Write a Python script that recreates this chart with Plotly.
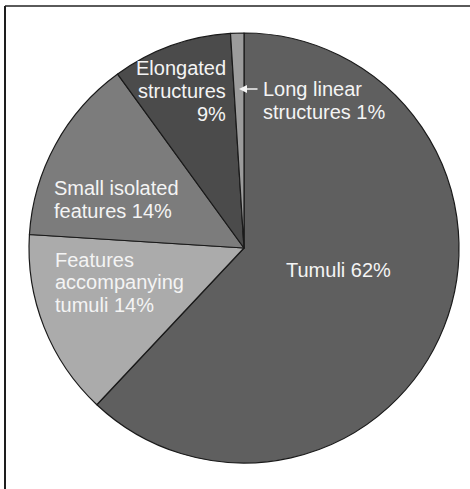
import plotly.graph_objects as go

W, H = 470, 489

categories = ["Tumuli", "Features accompanying tumuli", "Small isolated features",
              "Elongated structures", "Long linear structures"]
values = [62, 14, 14, 9, 1]
colors = ["#5f5f5f", "#ababab", "#7c7c7c", "#4b4b4b", "#9c9c9c"]

# label lines (text) for each slice
label_lines = {
    "Tumuli": ["Tumuli 62%"],
    "Features accompanying tumuli": ["Features", "accompanying", "tumuli 14%"],
    "Small isolated features": ["Small isolated", "features 14%"],
    "Elongated structures": ["Elongated", "structures", "9%"],
    "Long linear structures": ["Long linear", "structures 1%"],
}

FS = 20
LS = 22.6  # line spacing in px

# label placement in pixels: (x, y of block centre, xanchor)
label_pos = {
    "Tumuli": (338, 270, "center"),
    "Features accompanying tumuli": (53, 282.5, "left"),
    "Small isolated features": (52, 199.5, "left"),
    "Elongated structures": (228, 91, "right"),
    "Long linear structures": (261, 89 + LS / 2, "left"),
}

cx, cy, r = 244, 248, 215

fig = go.Figure(go.Pie(
    labels=categories, values=values, sort=False, direction="clockwise",
    rotation=0, textinfo="none", hoverinfo="label+percent",
    marker=dict(colors=colors, line=dict(color="#1a1a1a", width=1.2)),
    domain=dict(x=[(cx - r) / W, (cx + r) / W], y=[(H - cy - r) / H, (H - cy + r) / H]),
    showlegend=False,
))

annotations = []
for cat in categories:
    x, yc, anc = label_pos[cat]
    lines = label_lines[cat]
    n = len(lines)
    for i, line in enumerate(lines):
        y = yc + (i - (n - 1) / 2) * LS
        annotations.append(dict(
            x=x / W, y=(H - y) / H, xref="paper", yref="paper",
            text=line, showarrow=False, xanchor=anc, yanchor="middle",
            font=dict(family="Liberation Sans, Arial, sans-serif", size=FS, color="#f4f4f4"),
        ))

# arrow pointing to the thin slice
annotations.append(dict(
    x=239 / W, y=(H - 89) / H, xref="paper", yref="paper", text="",
    showarrow=True, ax=20, ay=0, arrowhead=2, arrowsize=1, arrowwidth=1.6,
    arrowcolor="#f4f4f4",
))

shapes = [
    dict(type="line", xref="paper", yref="paper", x0=5 / W, x1=1.0, y0=(H - 6) / H, y1=(H - 6) / H,
         line=dict(color="#5a5a5a", width=2)),
    dict(type="line", xref="paper", yref="paper", x0=5 / W, x1=5 / W, y0=0, y1=(H - 6) / H,
         line=dict(color="#1e1e1e", width=2)),
]

fig.update_layout(
    width=W, height=H, margin=dict(l=0, r=0, t=0, b=0),
    paper_bgcolor="white", plot_bgcolor="white",
    annotations=annotations, shapes=shapes,
)

fig.write_html("out.html", config={"displayModeBar": False},
               post_script="document.body.style.margin='0';")
